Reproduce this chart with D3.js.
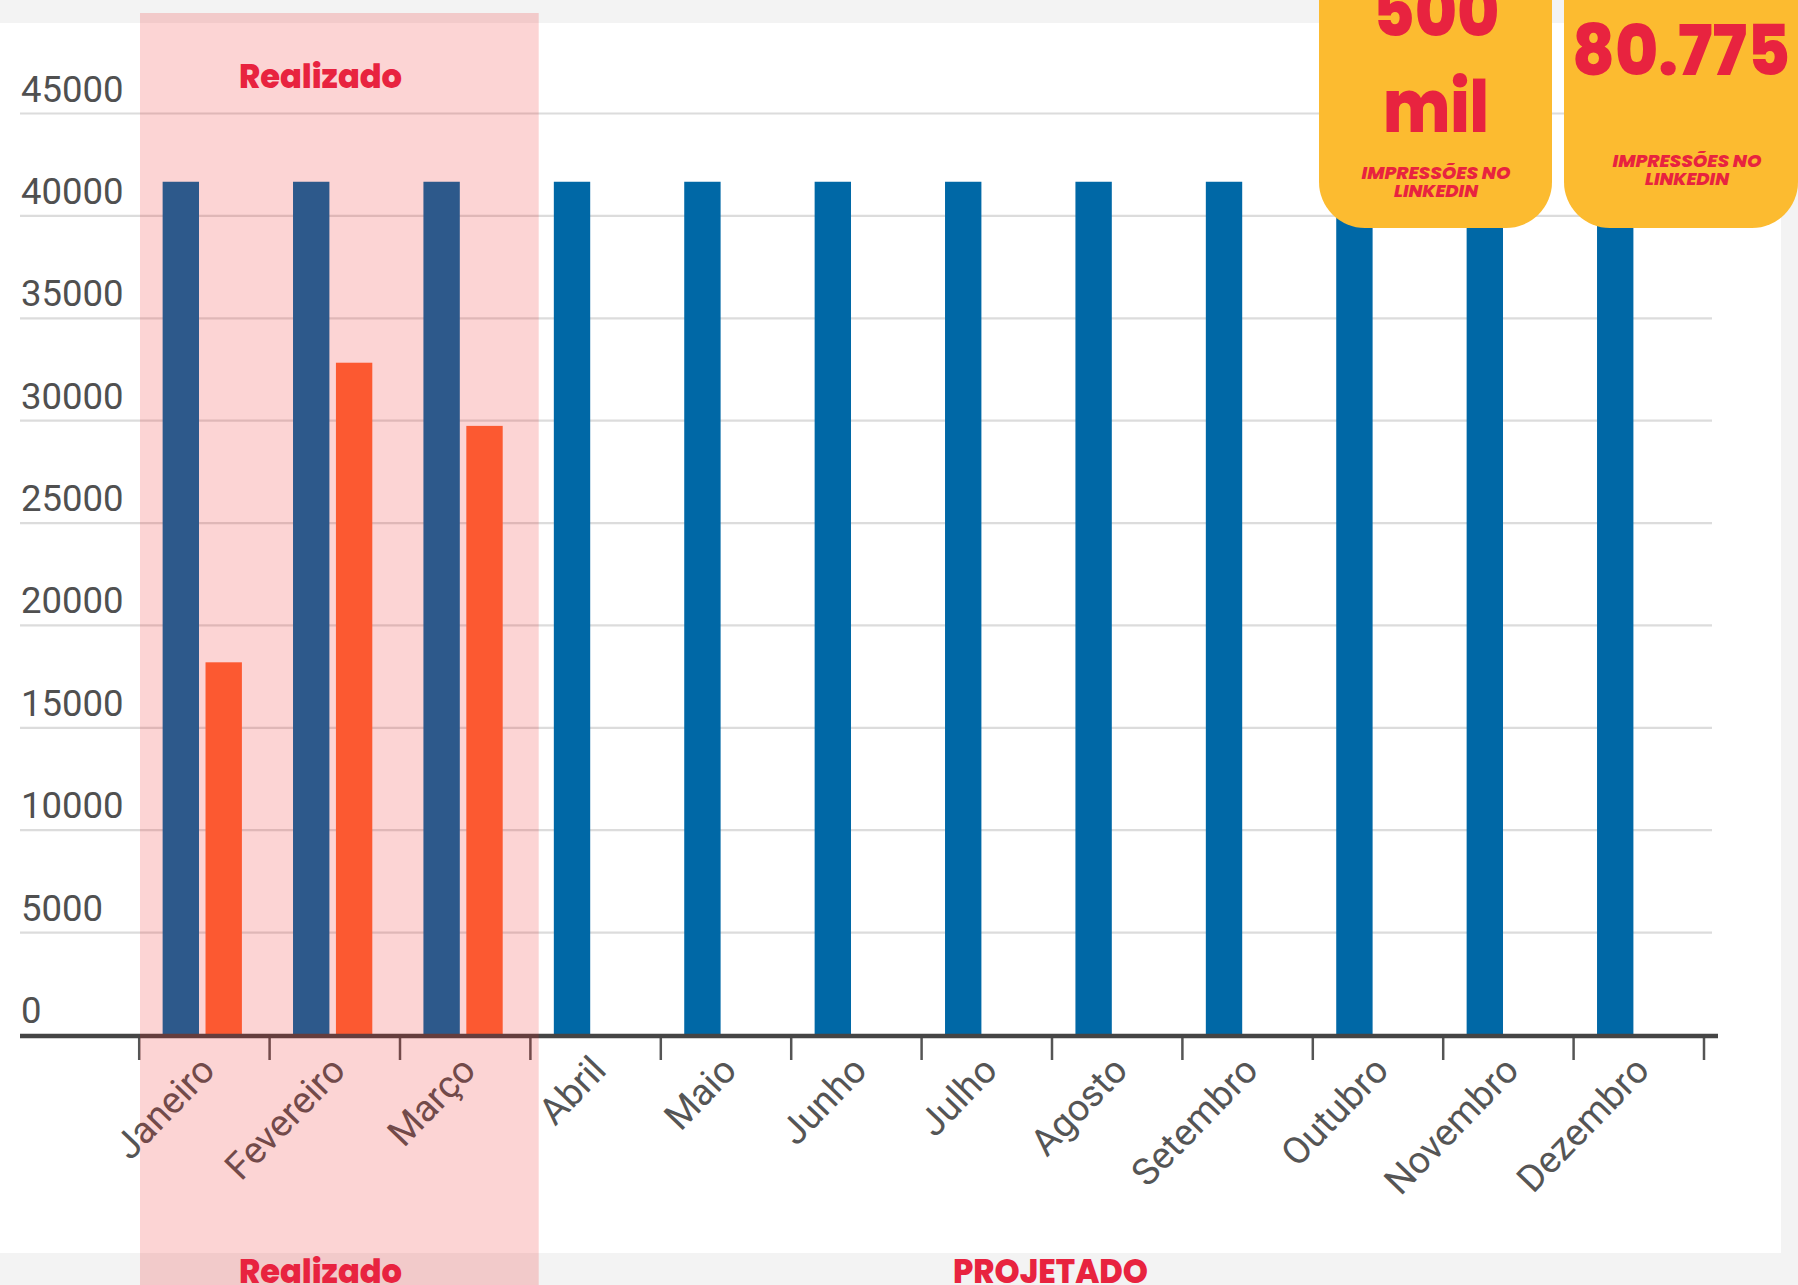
<!DOCTYPE html>
<html>
<head>
<meta charset="utf-8">
<script src="https://cdn.jsdelivr.net/npm/d3@7"></script>
<style>
html,body{margin:0;padding:0;background:#F3F3F3;}
svg{display:block;}
</style>
</head>
<body>
<svg id="chart" width="1798" height="1285"></svg>
<script>
// ---- data ----
const months = ["Janeiro","Fevereiro","Março","Abril","Maio","Junho","Julho","Agosto","Setembro","Outubro","Novembro","Dezembro"];
const meta = [41667,41667,41667,41667,41667,41667,41667,41667,41667,41667,41667,41667];
const realizado = [18200,32830,29745,null,null,null,null,null,null,null,null,null];
const yTicks = [0,5000,10000,15000,20000,25000,30000,35000,40000,45000];
const realizadoMonths = ["Janeiro","Fevereiro","Março"];
const kpiMeta = ["500","mil"];
const kpiReal = ["80.775"];
const kpiSub = ["IMPRESSÕES NO","LINKEDIN"];
const bandLabels = ["Realizado","PROJETADO"];

const svg = d3.select("#chart");
const W = 1798, H = 1285;

// backgrounds
svg.append("rect").attr("x",0).attr("y",0).attr("width",W).attr("height",H).attr("fill","#F3F3F3");
svg.append("rect").attr("x",0).attr("y",23).attr("width",1781).attr("height",1230).attr("fill","#FFFFFF");

// scales
const x0 = d3.scaleBand().domain(months).range([138.7,1703.5]).paddingInner(0).paddingOuter(0);
const x1 = d3.scaleBand().domain(["meta","real"]).range([0,x0.bandwidth()]).paddingInner(0.152).paddingOuter(0.596).align(0.468);
const y = d3.scaleLinear().domain([0,45000]).range([1035,113.5]);
const xEdge = d3.scaleLinear().domain([0,months.length]).range(x0.range());

// gridlines
svg.append("g").selectAll("line").data(yTicks.filter(d=>d>0)).join("line")
  .attr("x1",20).attr("x2",1712)
  .attr("y1",d=>y(d)).attr("y2",d=>y(d))
  .attr("stroke","#DCDCDC").attr("stroke-width",2.2);

// y labels
svg.append("g").selectAll("text").data(yTicks).join("text")
  .attr("x",21).attr("y",d=>y(d)-12)
  .attr("font-family","Roboto, 'Liberation Sans', sans-serif")
  .attr("font-size",36.5).attr("fill","#505050")
  .text(d=>d);

// bars
const groups = svg.append("g").selectAll("g").data(months).join("g")
  .attr("transform",d=>`translate(${x0(d)},0)`);
groups.append("rect")
  .attr("x",x1("meta")).attr("width",x1.bandwidth())
  .attr("y",(d,i)=>y(meta[i])).attr("height",(d,i)=>y(0)-y(meta[i]))
  .attr("fill","#0068A6");
groups.filter((d,i)=>realizado[i]!=null).append("rect")
  .attr("x",x1("real")).attr("width",x1.bandwidth())
  .attr("y",d=>y(realizado[months.indexOf(d)])).attr("height",d=>y(0)-y(realizado[months.indexOf(d)]))
  .attr("fill","#FF6837");

// x axis ticks at band edges
const xAxis = d3.axisBottom(xEdge).tickValues(d3.range(months.length+1)).tickSizeInner(25).tickSizeOuter(0).tickFormat("");
const gx = svg.append("g").attr("transform",`translate(0,${y(0)})`).call(xAxis);
gx.select(".domain").remove();
gx.selectAll(".tick line").attr("stroke","#555").attr("stroke-width",2.5);

// baseline
svg.append("line").attr("x1",20).attr("x2",1718).attr("y1",y(0)+1).attr("y2",y(0)+1)
  .attr("stroke","#454545").attr("stroke-width",4.5);

// month labels
svg.append("g").selectAll("text").data(months).join("text")
  .attr("transform",d=>`translate(${x0(d)+x0.bandwidth()/2+13},${y(0)+37}) rotate(-46)`)
  .attr("text-anchor","end")
  .attr("font-family","Roboto, 'Liberation Sans', sans-serif")
  .attr("font-size",37.5).attr("fill","#555")
  .text(d=>d);

// realized overlay
const ovX0 = x0(realizadoMonths[0]);
const ovX1 = x0(realizadoMonths[realizadoMonths.length-1]) + x0.bandwidth();
svg.append("rect").attr("x",ovX0+1.3).attr("y",13).attr("width",ovX1-ovX0+7.5).attr("height",H-13)
  .attr("fill","rgb(239,26,26)").attr("fill-opacity",0.19);

const red = "#E8233F";
const titleFont = "Poppins, Inter, 'Noto Sans', sans-serif";
// Realizado labels
[88, 1283].forEach(yy=>{
  svg.append("text").attr("x",320.5).attr("y",yy).attr("text-anchor","middle")
    .attr("font-family",titleFont).attr("font-weight",800).attr("font-size",33)
    .attr("textLength",163).attr("lengthAdjust","spacingAndGlyphs")
    .attr("fill",red).text(bandLabels[0]);
});
svg.append("text").attr("x",1050.5).attr("y",1283).attr("text-anchor","middle")
  .attr("font-family",titleFont).attr("font-weight",800).attr("font-size",33)
  .attr("textLength",195).attr("lengthAdjust","spacingAndGlyphs")
  .attr("fill",red).text(bandLabels[1]);

// KPI boxes
const yellow = "#FCBB30";
svg.append("rect").attr("x",1319).attr("y",-100).attr("width",233).attr("height",328).attr("rx",46).attr("fill",yellow);
svg.append("rect").attr("x",1564).attr("y",-100).attr("width",234).attr("height",328).attr("rx",46).attr("fill",yellow);

svg.append("text").attr("x",1436).attr("y",36).attr("text-anchor","middle")
  .attr("font-family",titleFont).attr("font-weight",800).attr("font-size",70)
  .attr("textLength",127).attr("lengthAdjust","spacingAndGlyphs")
  .attr("fill",red).text(kpiMeta[0]);
svg.append("text").attr("x",1436).attr("y",132).attr("text-anchor","middle")
  .attr("font-family",titleFont).attr("font-weight",800).attr("font-size",72)
  .attr("textLength",106).attr("lengthAdjust","spacingAndGlyphs")
  .attr("fill",red).text(kpiMeta[1]);
svg.append("text").attr("x",1681).attr("y",75).attr("text-anchor","middle")
  .attr("font-family",titleFont).attr("font-weight",800).attr("font-size",70)
  .attr("textLength",218).attr("lengthAdjust","spacingAndGlyphs")
  .attr("fill",red).text(kpiReal[0]);

[[1436,179],[1687,167]].forEach(([cx,by])=>{
  kpiSub.forEach((t,i)=>{
    svg.append("text").attr("x",cx).attr("y",by+i*17.5).attr("text-anchor","middle")
      .attr("font-family",titleFont).attr("font-weight",800).attr("font-style","italic").attr("font-size",17)
      .attr("textLength",i===0?149:84).attr("lengthAdjust","spacingAndGlyphs")
      .attr("fill",red).text(t);
  });
});
</script>
</body>
</html>
